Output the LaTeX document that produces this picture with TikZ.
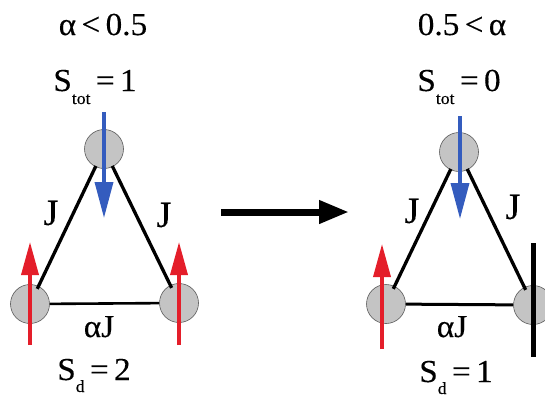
\documentclass[tikz,border=0pt]{standalone}
\usepackage{fontspec}
\setmainfont[FakeStretch=1.04,FakeBold=0.25]{Liberation Serif}
\usetikzlibrary{arrows.meta}
\definecolor{sitegray}{RGB}{196,196,196}
\definecolor{siteedge}{RGB}{90,90,90}
\definecolor{spinred}{RGB}{228,30,42}
\definecolor{spinblue}{RGB}{52,92,190}
\newcommand{\subtxt}[2]{\raisebox{#1}{\fontsize{17}{17}\selectfont #2}}
\begin{document}
\begin{tikzpicture}[x=1pt,y=-1pt,
  site/.style={circle,draw=siteedge,line width=0.6pt,fill=sitegray,minimum size=39pt,inner sep=0pt},
  bond/.style={line width=3.3pt,shorten <=-1pt,shorten >=-3pt},
  basebond/.style={line width=2.6pt},
  lbl/.style={font=\fontsize{32}{32}\selectfont,inner sep=0pt,anchor=base},
  jlbl/.style={font=\fontsize{37}{37}\selectfont,inner sep=0pt},
  spinup/.style={draw=spinred,line width=3.6pt,-{Triangle[length=33pt,width=17pt]}},
  spindown/.style={draw=spinblue,line width=3.6pt,-{Triangle[length=36pt,width=18pt]}},
  bigarrow/.style={line width=7pt,-{Triangle[length=30pt,width=22pt]}},
  bar/.style={line width=5pt}
]
\useasboundingbox (0,0) rectangle (545,402);

% ---------- left triangle ----------
\node[lbl] (la) at (103,35) {α\,<\,0.5};
\node[lbl] (ls) at (95,91) {S\subtxt{-13pt}{tot}\,=\,1};
\node[site] (lt) at (104,149) {};
\node[site] (ll) at (30,304) {};
\node[site] (lr) at (179,303) {};
\draw[bond] (lt) -- (ll);
\draw[bond] (lt) -- (lr);
\draw[basebond] (ll) -- (lr);
\node[jlbl] (lj1) at (51,213) {J};
\node[jlbl] (lj2) at (164,215) {J};
\node[lbl] (laj) at (99,337) {αJ};
\node[lbl] (lsd) at (94,380) {S\subtxt{-12pt}{d}\,=\,2};
\coordinate (lbs) at (104,112);
\coordinate (lbe) at (104,218);
\coordinate (lr1s) at (30,345);
\coordinate (lr1e) at (30,242);
\coordinate (lr2s) at (179,345);
\coordinate (lr2e) at (179,242);
\draw[spindown] (lbs) -- (lbe);
\draw[spinup] (lr1s) -- (lr1e);
\draw[spinup] (lr2s) -- (lr2e);

% ---------- transition arrow ----------
\coordinate (ms) at (221,212);
\coordinate (me) at (349,212);
\draw[bigarrow] (ms) -- (me);

% ---------- right triangle ----------
\node[lbl] (ra) at (462,35) {0.5\,<\,α};
\node[lbl] (rs) at (459,91) {S\subtxt{-13pt}{tot}\,=\,0};
\node[site] (rt) at (459,152) {};
\node[site] (rl) at (386,304) {};
\node[site] (rr) at (533,305) {};
\draw[bond] (rt) -- (rl);
\draw[bond] (rt) -- (rr);
\draw[basebond,line width=3pt] (rl) -- (rr);
\node[jlbl] (rj1) at (412,211) {J};
\node[jlbl] (rj2) at (513,207) {J};
\node[lbl] (raj) at (452,337) {αJ};
\node[lbl] (rsd) at (456,382) {S\subtxt{-12pt}{d}\,=\,1};
\coordinate (rbs) at (460,116);
\coordinate (rbe) at (460,219);
\coordinate (rrs) at (382,349);
\coordinate (rre) at (382,244);
\coordinate (bt) at (533,243);
\coordinate (bb) at (533,357);
\draw[spindown] (rbs) -- (rbe);
\draw[spinup] (rrs) -- (rre);
\draw[bar] (bt) -- (bb);
\end{tikzpicture}
\end{document}
